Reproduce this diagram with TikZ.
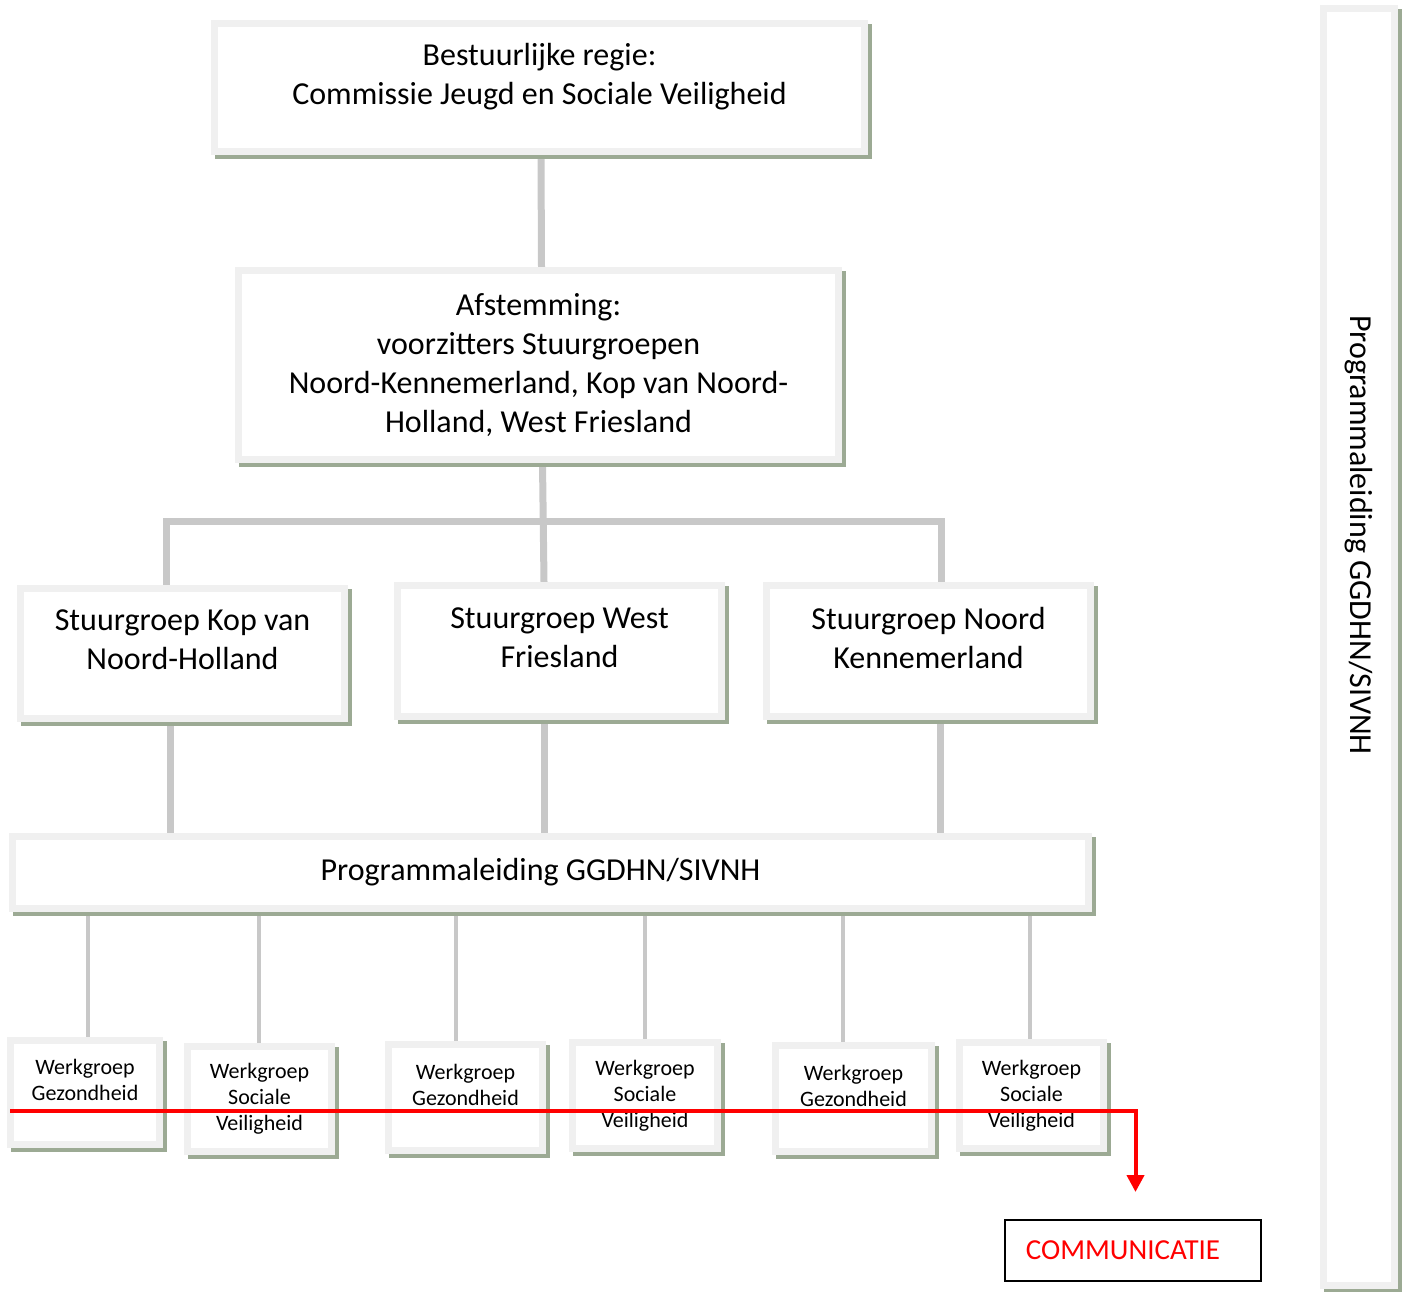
\documentclass[tikz,border=0pt]{standalone}
\usepackage{fontspec}
\setmainfont{Carlito}
\usepackage{tikz}
\usetikzlibrary{arrows.meta,backgrounds}

\definecolor{boxgray}{HTML}{F0F0F0}
\definecolor{shadowgreen}{HTML}{9CAA94}
\definecolor{linkgray}{HTML}{C8C8C8}
\newcommand{\bigtxt}{\fontsize{32}{39}\selectfont}
\newcommand{\smalltxt}{\fontsize{22}{26}\selectfont}

\begin{document}
\begin{tikzpicture}[x=1pt,y=-1pt,%
  box/.style={rectangle, fill=white, draw=boxgray, line width=7pt,
    preaction={draw=shadowgreen, transform canvas={shift={(4pt,-4pt)}}},
    align=center, inner sep=0pt, font=\bigtxt},
  smallbox/.style={box, font=\smalltxt},
  link/.style={draw=linkgray, line width=7pt},
  thinlink/.style={draw=linkgray, line width=4pt},
  redline/.style={draw=red, line width=4pt, -{Triangle[length=17pt,width=17pt]}}]

  \useasboundingbox (0,0) rectangle (1403,1291);

  \node[box, minimum width=650pt, minimum height=128pt] (regie) at (539.5,87.5)
    {Bestuurlijke regie:\\Commissie Jeugd en Sociale Veiligheid\\[-12pt]\mbox{}};
  \node[box, minimum width=600pt, minimum height=189pt] (afstemming) at (538.5,365)
    {Afstemming:\\voorzitters Stuurgroepen\\Noord-Kennemerland, Kop van Noord-\\Holland, West Friesland};
  \node[box, minimum width=324pt, minimum height=130pt] (kop) at (182.5,653.5)
    {Stuurgroep Kop van\\Noord-Holland\\[-12pt]\mbox{}};
  \node[box, minimum width=324pt, minimum height=131pt] (west) at (559.5,651)
    {Stuurgroep West\\Friesland\\[-12pt]\mbox{}};
  \node[box, minimum width=324pt, minimum height=131pt] (noord) at (928.5,651)
    {Stuurgroep Noord\\Kennemerland\\[-12pt]\mbox{}};
  \node[box, minimum width=1076pt, minimum height=72pt] (leiding) at (550.5,872.5)
    {\hspace*{-20pt}Programmaleiding GGDHN/SIVNH};

  \node[smallbox, minimum width=149pt, minimum height=104pt] (wg1) at (85,1092.5)
    {Werkgroep\\Gezondheid\\\mbox{}};
  \node[smallbox, minimum width=144pt, minimum height=105pt] (wg2) at (259.5,1099)
    {Werkgroep\\Sociale\\Veiligheid};
  \node[smallbox, minimum width=154pt, minimum height=106pt] (wg3) at (465.5,1097.5)
    {Werkgroep\\Gezondheid\\\mbox{}};
  \node[smallbox, minimum width=145pt, minimum height=106pt] (wg4) at (645,1095.5)
    {Werkgroep\\Sociale\\Veiligheid};
  \node[smallbox, minimum width=156pt, minimum height=106pt] (wg5) at (853.5,1098.5)
    {Werkgroep\\Gezondheid\\\mbox{}};
  \node[smallbox, minimum width=144pt, minimum height=106pt] (wg6) at (1031.5,1095.5)
    {Werkgroep\\Sociale\\Veiligheid};

  \node[box, minimum width=71pt, minimum height=1277pt] (zijbalk) at (1359,647) {};
  \node[rotate=-90, font=\bigtxt] (zijtekst) at ([yshift=112pt]zijbalk.center) {Programmaleiding GGDHN/SIVNH};

  \node[draw=black, line width=2pt, minimum width=256pt, minimum height=61pt,
    text=red, font=\fontsize{29}{34}\selectfont] (communicatie) at (1133,1250.5)
    {\hspace*{-20pt}COMMUNICATIE};

  % connectors behind the boxes
  \begin{scope}[on background layer]
    \draw[link] ([xshift=1.5pt]regie.south) -- ([xshift=3pt]afstemming.north);
    \draw[link] ([xshift=4pt]afstemming.south) -- ([xshift=-15.5pt]west.north);
    \draw[link] ([xshift=-16.5pt]kop.north) |- ([xshift=4pt]afstemming.south |- 0,521) -| ([xshift=12.5pt]noord.north);
    \draw[link] ([xshift=-12.5pt]kop.south) -- ([xshift=-12.5pt]kop.south |- leiding.north);
    \draw[link] ([xshift=-15.5pt]west.south) -- ([xshift=-15.5pt]west.south |- leiding.north);
    \draw[link] ([xshift=11.5pt]noord.south) -- ([xshift=11.5pt]noord.south |- leiding.north);
    \foreach \wg/\dx in {wg1/3, wg2/-1, wg3/-9.5, wg4/0, wg5/-10.5, wg6/-1.5}
      \draw[thinlink] ([xshift=\dx pt]\wg.north |- leiding.south) -- ([xshift=\dx pt]\wg.north);
  \end{scope}

  % communicatie line over the werkgroepen
  \coordinate (rstart) at (10,1111);
  \coordinate (rend) at (1135.5,1192);
  \draw[redline] (rstart) -| (rend);
\end{tikzpicture}
\end{document}
